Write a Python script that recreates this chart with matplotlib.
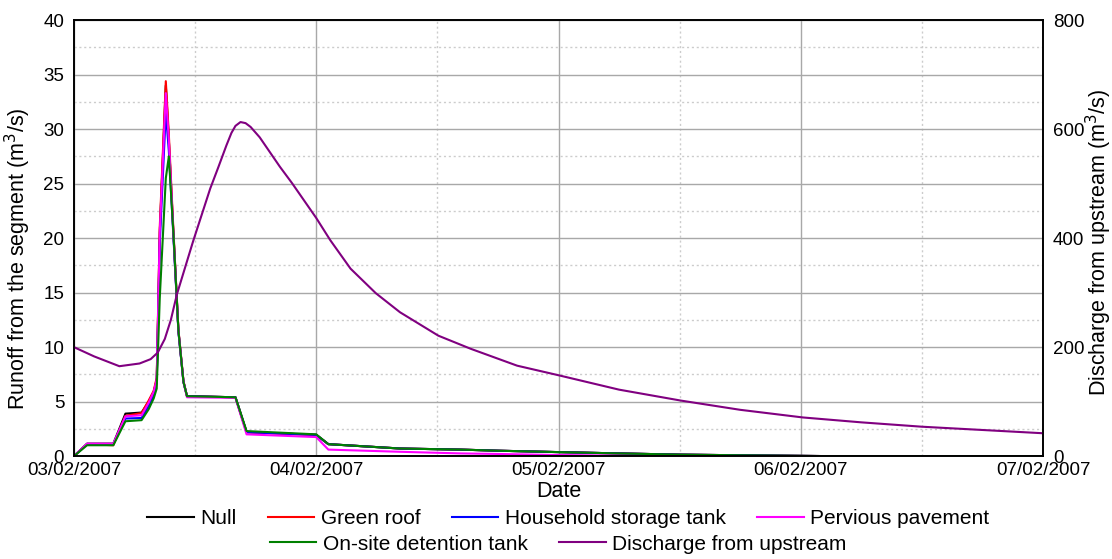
import pandas as pd
import matplotlib
matplotlib.use("Agg")
import matplotlib.pyplot as plt
import matplotlib.dates as mdates

plt.rcParams['font.family'] = ['Liberation Sans', 'DejaVu Sans']
plt.rcParams['font.size'] = 13.5

start = pd.Timestamp('2007-02-03 00:00')

# runoff from the segment, hours after start
t_runoff = [0, 1.3, 3.9, 5.1, 6.7, 7.4, 7.9, 8.2, 8.5, 9.1, 9.4, 9.85, 10.35, 10.85,
            11.2, 16.0, 17.1, 24.0, 25.2, 32.3, 38.3, 42, 48, 54, 60, 66, 75, 96]
null = [0, 1.15, 1.15, 3.9, 4.0, 5.0, 5.9, 7.0, 20.5, 34.0, 29.0, 20.5, 11.5, 6.8,
        5.5, 5.4, 2.2, 1.95, 1.1, 0.7, 0.6, 0.5, 0.37, 0.25, 0.14, 0.08, 0, 0]
green_roof = [0, 1.1, 1.0, 3.7, 3.95, 5.1, 6.0, 7.2, 21.0, 34.4, 29.5, 20.8, 11.6, 6.9,
              5.5, 5.4, 2.2, 1.95, 1.1, 0.7, 0.6, 0.5, 0.37, 0.25, 0.14, 0.08, 0, 0]
household = [0, 1.1, 1.1, 3.45, 3.5, 4.6, 5.6, 6.7, 19.5, 31.6, 28.0, 20.2, 11.4, 6.8,
             5.5, 5.4, 2.2, 1.95, 1.1, 0.7, 0.6, 0.5, 0.37, 0.25, 0.14, 0.08, 0, 0]
pervious = [0, 1.15, 1.15, 3.65, 3.75, 4.9, 5.9, 7.0, 20.5, 33.3, 29.0, 20.5, 11.5, 6.8,
            5.4, 5.35, 2.0, 1.75, 0.6, 0.4, 0.25, 0.2, 0.1, 0.05, 0, 0, 0, 0]
detention = [0, 1.0, 1.0, 3.2, 3.3, 4.3, 5.3, 6.2, 14.5, 25.5, 27.5, 20.5, 11.5, 6.8,
             5.5, 5.4, 2.3, 2.0, 1.1, 0.7, 0.6, 0.5, 0.37, 0.25, 0.14, 0.08, 0, 0]

# discharge from upstream
t_up = [0, 2, 4.5, 6.5, 7.6, 8.3, 9.0, 9.6, 10.2, 11.8, 13.5, 14.3, 15.1, 15.6, 16.0,
        16.5, 17.0, 17.5, 18.4, 19.4, 20.4, 21.6, 24, 25.4, 27.4, 29.9, 32.3, 36.1,
        39.3, 43.9, 48.1, 54, 60.1, 66, 72.2, 78, 84, 90, 96]
upstream = [200, 183, 165, 170, 178, 190, 215, 250, 297, 394, 491, 530, 570, 593, 606,
            613, 611, 604, 585, 558, 531, 501, 437, 396, 344, 299, 264, 221,
            197, 166, 148, 122, 102, 85, 71, 62, 54, 48, 42]

x_run = start + pd.to_timedelta(t_runoff, unit='h')
x_up = start + pd.to_timedelta(t_up, unit='h')

fig = plt.figure(figsize=(11.12, 5.59), dpi=100)
ax = fig.add_axes([0.0665, 0.184, 0.8715, 0.78])

lw = 1.5
l1, = ax.plot(x_run, null, color='black', lw=lw, label='Null')
l2, = ax.plot(x_run, green_roof, color='red', lw=lw, label='Green roof')
l3, = ax.plot(x_run, household, color='blue', lw=lw, label='Household storage tank')
l4, = ax.plot(x_run, pervious, color='magenta', lw=lw, label='Pervious pavement')
l5, = ax.plot(x_run, detention, color='green', lw=lw, label='On-site detention tank')

ax2 = ax.twinx()
l6, = ax2.plot(x_up, upstream, color='purple', lw=lw, label='Discharge from upstream')

ax.set_xlim(start, start + pd.Timedelta(days=4))
ax.set_ylim(0, 40)
ax2.set_ylim(0, 800)
ax.set_yticks(range(0, 41, 5))
ax.set_yticks([2.5 + 5 * i for i in range(8)], minor=True)
ax2.set_yticks(range(0, 801, 200))

ax.xaxis.set_major_locator(mdates.DayLocator())
ax.xaxis.set_minor_locator(mdates.HourLocator(byhour=[12]))
ax.xaxis.set_major_formatter(mdates.DateFormatter('%d/%m/%Y'))

ax.grid(True, which='major', color='#a8a8a8', lw=1, ls='-')
ax.grid(True, which='minor', color='#cccccc', lw=1, ls=(0, (1.5, 2)))
ax.set_axisbelow(True)

ax.tick_params(which='both', length=0)
ax.tick_params(axis='y', pad=7)
ax.tick_params(axis='x', pad=4)
ax2.tick_params(length=0, pad=7)

for a in (ax, ax2):
    for s in a.spines.values():
        s.set_color('black')
        s.set_linewidth(1.2)

ax.set_xlabel('Date', fontsize=15.5, labelpad=2)
ax.set_ylabel('Runoff from the segment (m$^3$/s)', fontsize=15.5)
ax.yaxis.set_label_coords(-0.0425, 0.452)
ax2.set_ylabel('Discharge from upstream (m$^3$/s)', fontsize=15.5)
ax2.yaxis.set_label_coords(1.042, 0.49)

leg_kw = dict(frameon=False, handlelength=2.25, handletextpad=0.3,
              columnspacing=1.5, borderpad=0, fontsize=15)
fig.legend(handles=[l1, l2, l3, l4], ncol=4, loc='center',
           bbox_to_anchor=(568 / 1112, 1 - 519 / 559), **leg_kw)
fig.legend(handles=[l5, l6], ncol=2, loc='center',
           bbox_to_anchor=(558 / 1112, 1 - 544 / 559), **leg_kw)

fig.savefig('out.png', dpi=100)
